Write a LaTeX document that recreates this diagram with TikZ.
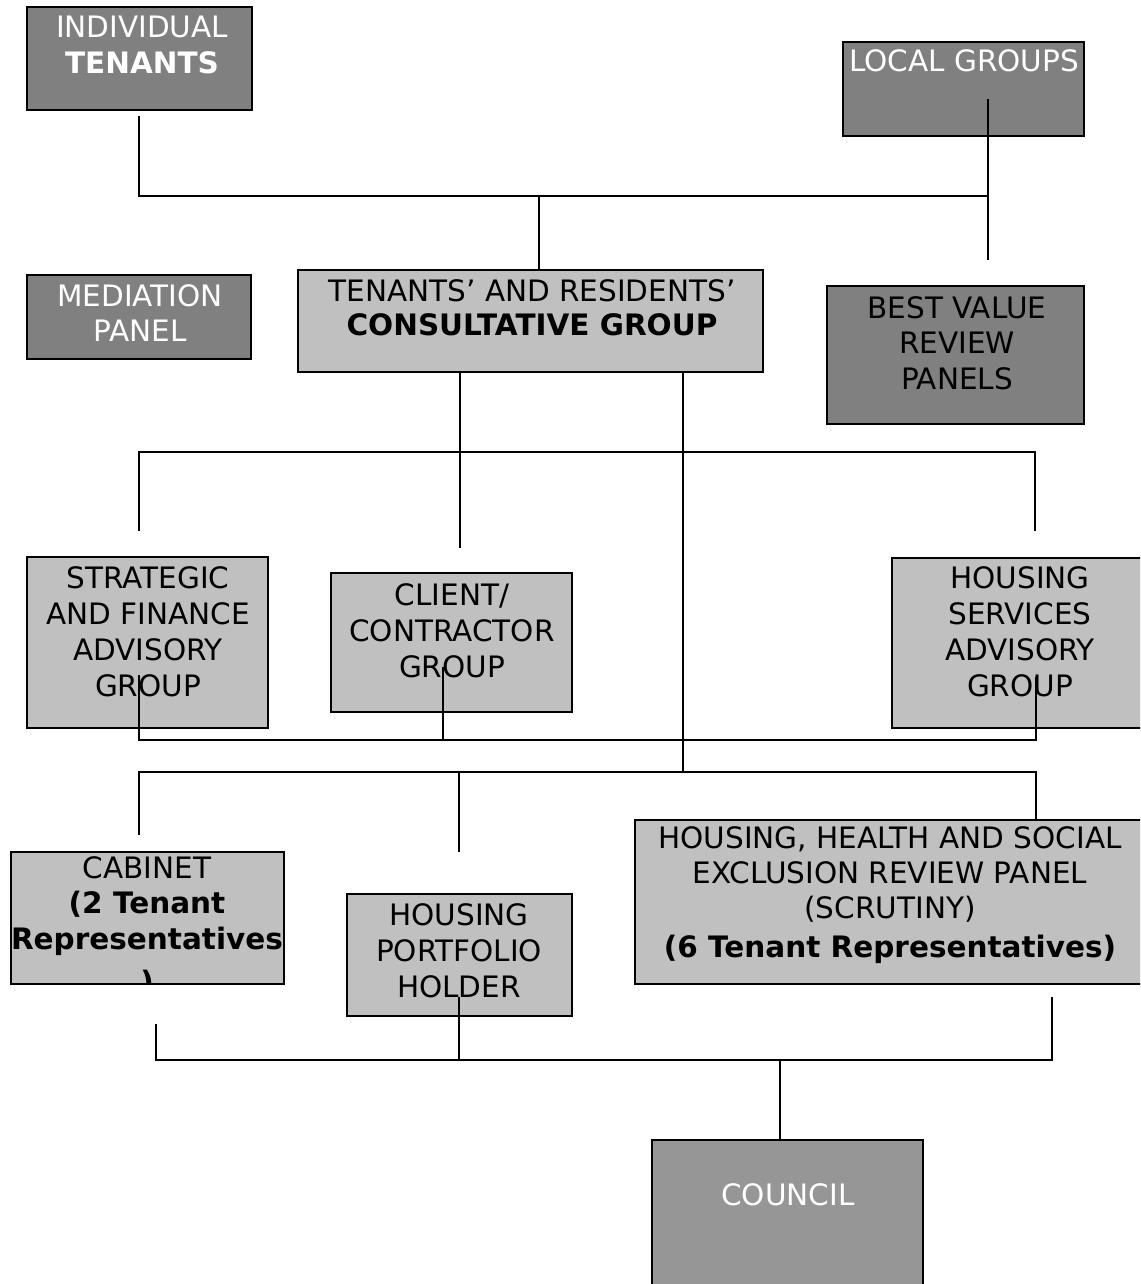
\documentclass[tikz,border=0pt]{standalone}
\usepackage{fontspec}
\setmainfont{DejaVu Sans}
\definecolor{boxdark}{HTML}{808080}
\definecolor{boxlight}{HTML}{C0C0C0}
\definecolor{boxmid}{HTML}{969696}
% centred lines whose first baseline is the baseline of the whole box
\newcommand\stack[1]{\vtop{\halign{\hfil##\hfil\cr#1\crcr}}}
\begin{document}
\begin{tikzpicture}[x=1pt,y=-1pt,
  box/.style={draw=black, line width=1.8pt, rectangle, inner sep=0pt},
  darkbox/.style={box, fill=boxdark},
  lightbox/.style={box, fill=boxlight},
  midbox/.style={box, fill=boxmid},
  txt/.style={anchor=base, inner sep=0pt, font=\fontsize{29.5}{35.5}\selectfont},
  link/.style={draw=black, line width=1.6pt},
]
\useasboundingbox (0,0) rectangle (1140,1284);
\clip (0,0) rectangle (1140,1284);

% ---------- boxes ----------
\node[darkbox,  minimum width=225pt, minimum height=103pt] (indiv)   at (139.5,58.5) {};
\node[darkbox,  minimum width=241pt, minimum height=94pt]  (local)   at (963.5,89)   {};
\node[lightbox, minimum width=465pt, minimum height=102pt] (trcg)    at (530.5,321)  {};
\node[darkbox,  minimum width=224pt, minimum height=84pt]  (med)     at (139,317)    {};
\node[darkbox,  minimum width=257pt, minimum height=138pt] (bvr)     at (955.5,355)  {};
\node[lightbox, minimum width=241pt, minimum height=171pt] (strat)   at (147.5,642.5){};
\node[lightbox, minimum width=241pt, minimum height=139pt] (client)  at (451.5,642.5){};
\node[lightbox, minimum width=256pt, minimum height=170pt] (hsag)    at (1020,643)   {};
\node[lightbox, minimum width=273pt, minimum height=132pt] (cab)     at (147.5,918)  {};
\node[lightbox, minimum width=225pt, minimum height=122pt] (hph)     at (459.5,955)  {};
\node[lightbox, minimum width=510pt, minimum height=164pt] (hhse)    at (890,902)    {};
\node[midbox,   minimum width=271pt, minimum height=160pt] (council) at (787.5,1220) {};

% ---------- labels ----------
\node[txt, text=white] (tindiv) at (142,38)
  {\fontsize{29.5}{36}\selectfont\stack{INDIVIDUAL\cr\textbf{TENANTS}}};
\node[txt, text=white] (tlocal) at (964,72) {LOCAL GROUPS};
\node[txt] (ttrcg) at (532,301)
  {\fontsize{29.5}{34}\selectfont\stack{TENANTS’ AND RESIDENTS’\cr\textbf{CONSULTATIVE GROUP}}};
\node[txt, text=white] (tmed) at (140,306)
  {\fontsize{29.5}{35}\selectfont\stack{MEDIATION\cr PANEL}};
\node[txt] (tbvr) at (957,318) {\stack{BEST VALUE\cr REVIEW\cr PANELS}};
\node[txt] (tstrat) at (148,588)
  {\fontsize{29.5}{36.3}\selectfont\stack{STRATEGIC\cr AND FINANCE\cr ADVISORY\cr GROUP}};
\node[txt] (tclient) at (452,605)
  {\fontsize{29.5}{36}\selectfont\stack{CLIENT/\cr CONTRACTOR\cr GROUP}};
\node[txt] (thsag) at (1020,588)
  {\fontsize{29.5}{36.3}\selectfont\stack{HOUSING\cr SERVICES\cr ADVISORY\cr GROUP}};
\begin{scope}
  \clip (cab.north west) rectangle (cab.south east);
  \node[txt] (tcab) at (147,878)
    {\stack{CABINET\cr\textbf{(2 Tenant}\cr\textbf{Representatives}\cr
     \noalign{\vskip8pt}\textbf{)}}};
\end{scope}
\node[txt] (thph) at (459,925)
  {\fontsize{29.5}{36}\selectfont\stack{HOUSING\cr PORTFOLIO\cr HOLDER}};
\node[txt] (thhse) at (890,848)
  {\fontsize{29.5}{35}\selectfont\stack{HOUSING, HEALTH AND SOCIAL\cr
   EXCLUSION REVIEW PANEL\cr (SCRUTINY)\cr\noalign{\vskip4pt}
   \textbf{(6 Tenant Representatives)}}};
\node[txt, text=white] (tcouncil) at (788,1205) {COUNCIL};

% ---------- bus junctions ----------
\coordinate (busA)  at (988,196);
\coordinate (busAm) at (539,196);
\coordinate (lgIn)  at (988,99);
\coordinate (lgEnd) at (988,260);
\coordinate (busB)  at (139,452);
\coordinate (busBr) at (1035,452);
\coordinate (sgEnd) at (139,531);
\coordinate (hsEnd) at (1035,531);
\coordinate (ccEnd) at (460,548);
\coordinate (stIn)  at (139,675);
\coordinate (ccIn)  at (443,667);
\coordinate (hsIn)  at (1036,677);
\coordinate (busC)  at (139,740);
\coordinate (busD)  at (139,772);
\coordinate (busDr) at (1036,772);
\coordinate (cbEnd) at (139,835);
\coordinate (hpEnd) at (459,852);
\coordinate (cbIn)  at (156,1024);
\coordinate (hpIn)  at (459,997);
\coordinate (hhIn)  at (1052,997);
\coordinate (busE)  at (156,1060);
\coordinate (busEm) at (780,1060);

% ---------- connectors ----------
\draw[link] ([yshift=-5pt]indiv.south -| busB) |- (busA);
\draw[link] (lgIn) -- (lgEnd);
\draw[link] (busAm) -- (busAm |- trcg.north);
\draw[link] (trcg.south -| ccEnd) -- (ccEnd);
\draw[link] (trcg.south -| 683,0) -- (683,772);
\draw[link] (sgEnd) -- (busB) -- (busBr) -- (hsEnd);
\draw[link] (stIn) -- (busC) -| (hsIn);
\draw[link] (ccIn) -- (ccIn |- busC);
\draw[link] (cbEnd) -- (busD) -- (busDr) -- (busDr |- hhse.north);
\draw[link] (hpEnd) -- (hpEnd |- busD);
\draw[link] (cbIn) -- (busE) -| (hhIn);
\draw[link] (hpIn) -- (hpIn |- busE);
\draw[link] (busEm) -- (busEm |- council.north);
\end{tikzpicture}
\end{document}
